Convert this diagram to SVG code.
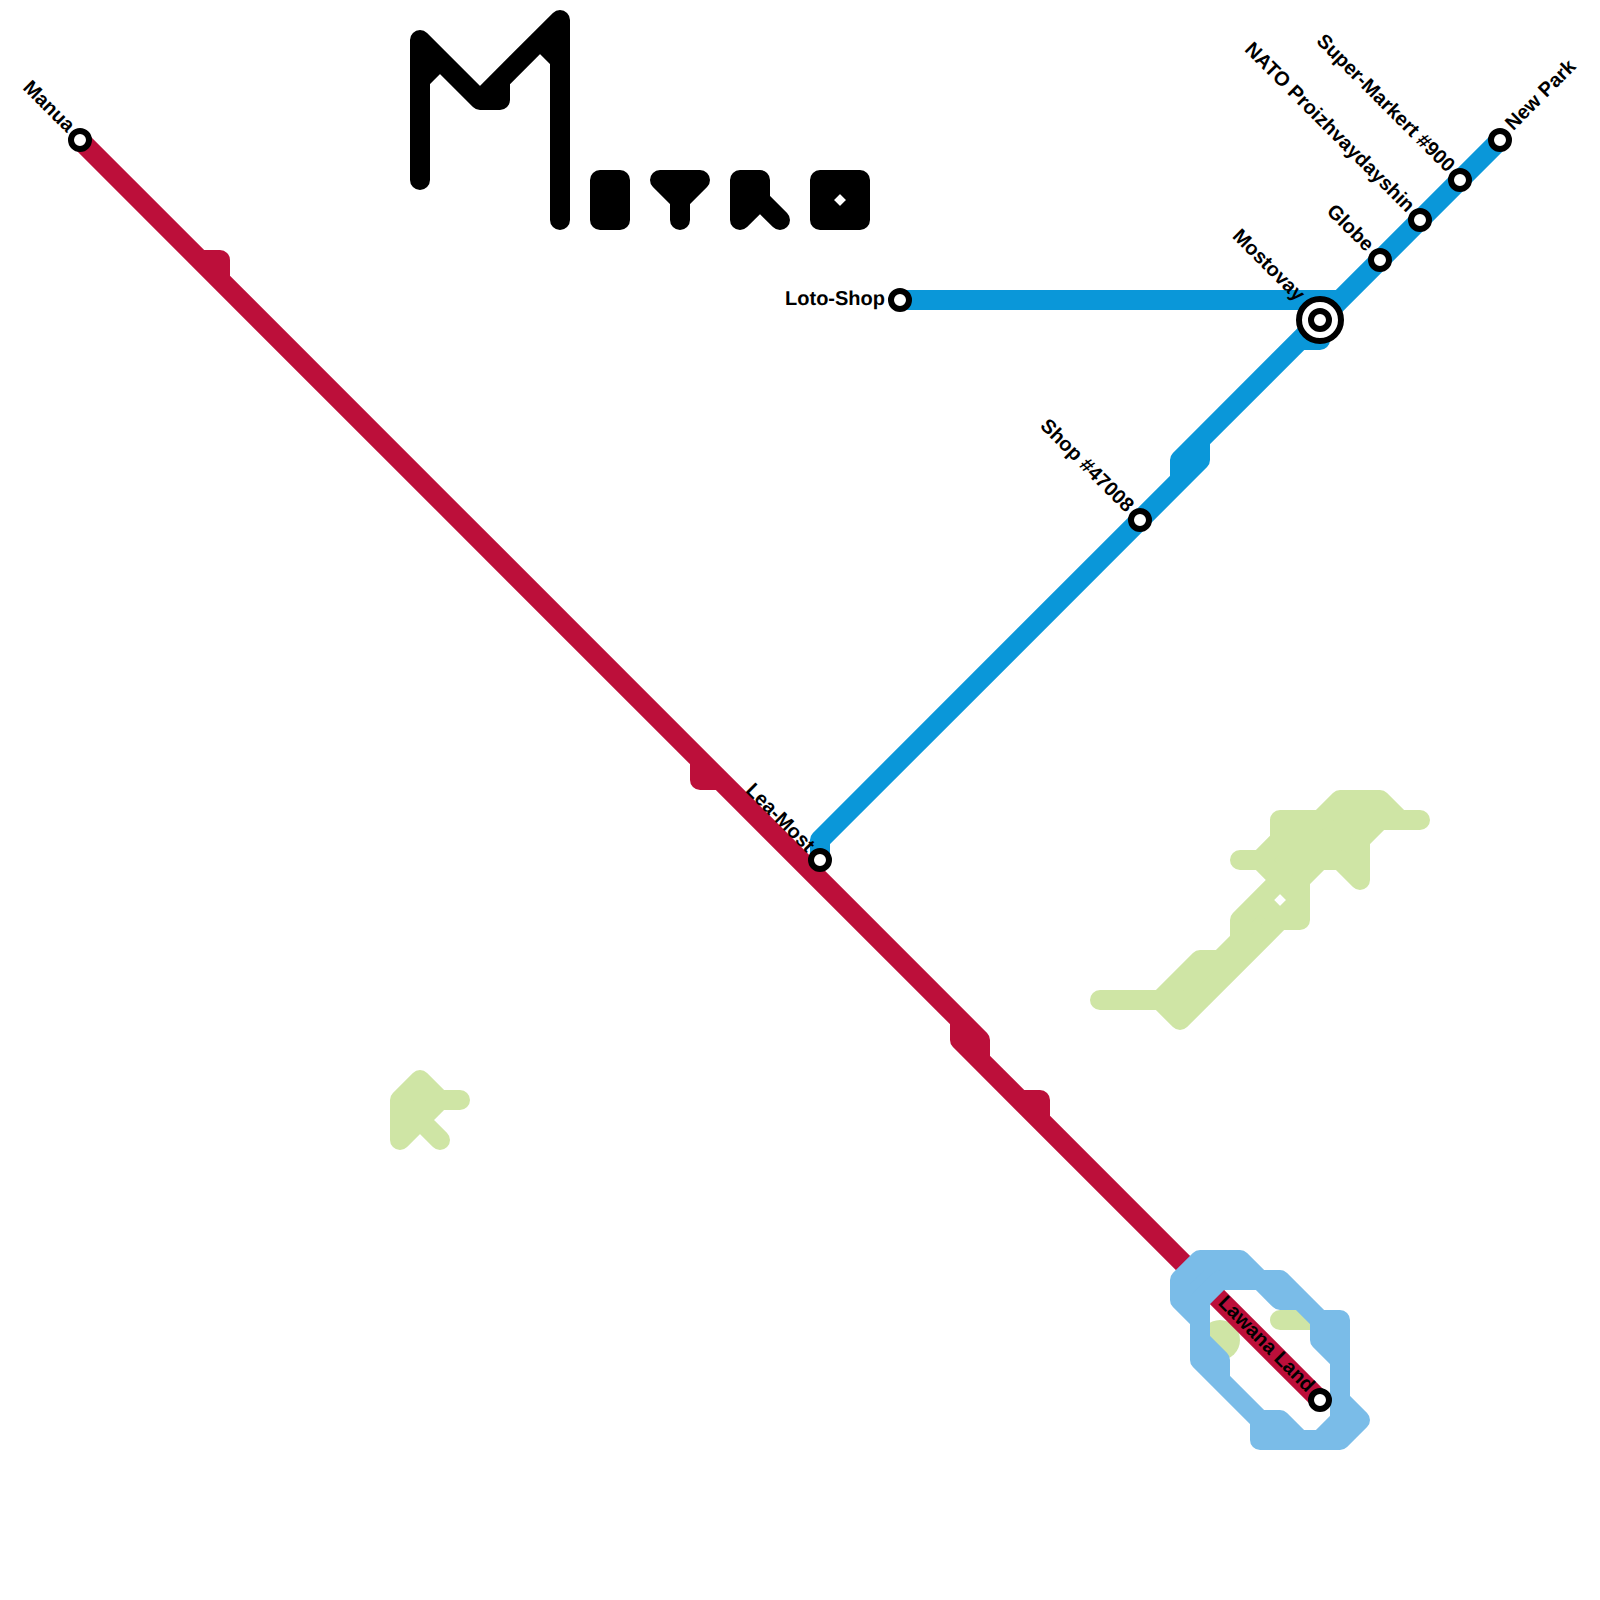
<svg xmlns="http://www.w3.org/2000/svg" width="1600" height="1600" viewBox="0 0 1600 1600">
<style>
.l{fill:none;stroke-width:20;stroke-linecap:round;stroke-linejoin:round}
.f{fill-rule:evenodd}
.red{stroke:#bc0f3a}.blue{stroke:#0a97d9}.lb{stroke:#7abce8;fill:#7abce8}.gr{stroke:#cfe5a5;fill:#cfe5a5}.gs{stroke:#cfe5a5}.bk{stroke:#000}
.st{fill:#fff;stroke:#000;stroke-width:6}
.t{font:bold 20px "Liberation Sans",Arial,sans-serif;fill:#000;dominant-baseline:central;text-rendering:geometricPrecision}
.e{text-anchor:end}
</style>
<rect width="1600" height="1600" fill="#fff"/>
<g id="title">
<path class="l bk" d="M420,180V40L480,100H500V80M480,100L560,20V220M420,80L440,60M540,40L560,60"/>
<path class="l bk" d="M600,180H620V220H600Z"/>
<path class="l bk" d="M660,180H700L680,200ZM680,200V220"/>
<path class="l bk" d="M740,220V180H760V200L740,220M760,200L780,220"/>
<path class="l bk" d="M820,180H860V220H820ZM820,200L840,180L860,200L840,220Z"/>
</g>
<g id="water">
<path class="l gr f" d="M1180,1020L1160,1000H1100H1160L1200,960H1220L1240,940V920L1280,880L1260,860H1240H1260L1280,840V820H1320L1340,800H1380L1400,820H1420H1380L1360,840V880L1340,860H1320L1300,880V920H1280ZM1260,900L1280,880L1300,900L1280,920Z"/>
<path class="l gr" d="M420,1080L440,1100H460H440L420,1120L440,1140L420,1120L400,1140V1100Z"/>
<path class="l gs" d="M1280,1320H1310"/>
<circle cx="1220" cy="1340" r="20" fill="#cfe5a5"/>
</g>
<g id="connectors">
<path class="l red" d="M80,140L980,1040V1060M960,1020V1040L1320,1400M200,260H220V280M700,760V780H720M1020,1100H1040V1120"/>
<path class="l blue" d="M900,300H1340M1500,140L1180,460V480M820,860V840L1200,460V440M1300,340H1320V320"/>
</g>
<g id="harbour">
<path class="l lb f" d="M1200,1260H1240L1260,1280H1280L1320,1320H1340V1400L1360,1420L1340,1440H1260V1420L1200,1360V1320L1180,1300V1280ZM1200,1300L1220,1280H1260L1280,1300H1300L1320,1320V1340L1340,1360V1420L1320,1440H1300L1280,1420H1260L1220,1380V1360L1200,1340Z"/>
</g>
<g id="lawana-label"><text class="t e" transform="translate(1311,1389) rotate(45)">Lawana Land</text></g>
<g id="manua"><circle class="st" cx="80" cy="140" r="9"/><text class="t e" transform="translate(71,129) rotate(45)">Manua</text></g>
<g id="lawana-land"><circle class="st" cx="1320" cy="1400" r="9"/></g>
<g id="lea-most"><circle class="st" cx="820" cy="860" r="9"/><text class="t e" transform="translate(811,849) rotate(45)">Lea-Most</text></g>
<g id="shop-47008"><circle class="st" cx="1140" cy="520" r="9"/><text class="t e" transform="translate(1130,509) rotate(45)">Shop #47008</text></g>
<g id="loto-shop"><circle class="st" cx="900" cy="300" r="9"/><text class="t e" x="885" y="299">Loto-Shop</text></g>
<g id="mostovay"><circle class="st" cx="1320" cy="320" r="21"/><circle class="st" cx="1320" cy="320" r="9"/><text class="t e" transform="translate(1301,298) rotate(45)">Mostovay</text></g>
<g id="globe"><circle class="st" cx="1380" cy="260" r="9"/><text class="t e" transform="translate(1370,248) rotate(45)">Globe</text></g>
<g id="nato"><circle class="st" cx="1420" cy="220" r="9"/><text class="t e" transform="translate(1411,209) rotate(45)">NATO Proizhvaydayshin</text></g>
<g id="super"><circle class="st" cx="1460" cy="180" r="9"/><text class="t e" transform="translate(1451,169) rotate(45)">Super-Markert #900</text></g>
<g id="new-park"><circle class="st" cx="1500" cy="140" r="9"/><text class="t" transform="translate(1509,127) rotate(-45)">New Park</text></g>
</svg>
